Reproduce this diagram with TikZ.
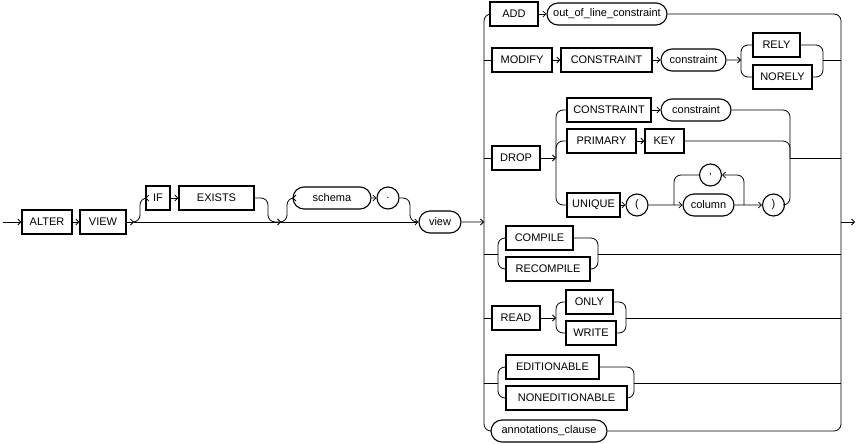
\documentclass[tikz,border=0pt]{standalone}
\usepackage{fontspec}
\setmainfont{Liberation Sans}
\usetikzlibrary{arrows.meta,shapes.misc}
\begin{document}
\begin{tikzpicture}[x=1pt,y=-1pt,
  every node/.style={font=\fontsize{11}{12}\selectfont, inner sep=1pt},
  kw/.style={draw,line width=1.3pt,minimum height=24pt},
  nt/.style={draw,line width=1.1pt,rounded rectangle,minimum height=22pt},
  ln/.style={line width=0.8pt},
  rc/.style={ln,rounded corners=7pt},
  arr/.style={ln,-{Straight Barb[length=3pt,width=6pt]}}]
\useasboundingbox (0,0) rectangle (859,444);
% left part
\node[kw,minimum width=50pt] (alter) at (47,222) {ALTER};
\node[kw,minimum width=46pt] (view) at (103,222) {VIEW};
\node[kw,minimum width=24pt] (if) at (158,198) {IF};
\node[kw,minimum width=75pt] (exists) at (216.5,198) {EXISTS};
\node[nt,minimum width=80pt] (schema) at (332,198) {schema};
\node[nt,minimum width=20pt] (dot) at (388,198) {.};
\node[nt,minimum width=44pt] (vw) at (440,222) {view};
\coordinate (s) at (3,222);
\coordinate (j1) at (134,222);
\coordinate (j2) at (281,222);
\coordinate (lb) at (484,222);
\coordinate (rb) at (841,222);
\coordinate (e) at (855,222);
\draw[arr] (s) -- (alter);
\draw[arr] (alter) -- (view);
\draw[arr] (view) -- (j1);
\draw[arr] (j1) -- (j2);
\draw[arr] (j2) -- (vw);
\draw[rc,-{Straight Barb[length=3pt,width=6pt]}] (j1) -| (140,198) -- (if);
\draw[arr] (if) -- (exists);
\draw[rc] (exists) -| (268,222) -- (j2);
\draw[rc,-{Straight Barb[length=3pt,width=6pt]}] (j2) -| (287,198) -- (schema);
\draw[arr] (schema) -- (dot);
\draw[rc] (dot) -| (410,222) -- (414,222);
\draw[arr] (vw) -- (lb);
\draw[arr] (rb) -- (e);
% right part rows
\node[kw,minimum width=48pt] (add) at (514,14) {ADD};
\node[nt,minimum width=122pt] (ool) at (607,14) {out\_of\_line\_constraint};
\node[kw,minimum width=60pt] (modify) at (522,60) {MODIFY};
\node[kw,minimum width=91pt] (cons1) at (606.5,60) {CONSTRAINT};
\node[nt,minimum width=67pt] (c1) at (693.5,60) {constraint};
\node[kw,minimum width=47pt] (rely) at (776.5,45) {RELY};
\node[kw,minimum width=59pt] (norely) at (782.5,77) {NORELY};
\node[kw,minimum width=48pt] (drop) at (516,158) {DROP};
\node[kw,minimum width=84pt] (cons2) at (609,110) {CONSTRAINT};
\node[nt,minimum width=72pt] (c2) at (696,110) {constraint};
\node[kw,minimum width=69pt] (primary) at (601.5,141) {PRIMARY};
\node[kw,minimum width=39pt] (key) at (664.5,141) {KEY};
\node[kw,minimum width=53pt] (unique) at (593.5,205) {UNIQUE};
\node[nt,minimum width=18pt] (lp) at (637,205) {(};
\node[nt,minimum width=21pt] (comma) at (710.5,175) {,};
\node[nt,minimum width=53pt] (column) at (708.5,205) {column};
\node[nt,minimum width=17pt] (rp) at (773.5,205) {)};
\node[kw,minimum width=67pt] (compile) at (539.5,238) {COMPILE};
\node[kw,minimum width=84pt] (recompile) at (548,269) {RECOMPILE};
\node[kw,minimum width=48pt] (read) at (516,318) {READ};
\node[kw,minimum width=47pt] (only) at (589.5,302) {ONLY};
\node[kw,minimum width=50pt] (write) at (591,333) {WRITE};
\node[kw,minimum width=93pt] (edit) at (552.5,367) {EDITIONABLE};
\node[kw,minimum width=121pt] (nedit) at (566.5,398) {NONEDITIONABLE};
\node[nt,minimum width=118pt] (ann) at (549,431) {annotations\_clause};
% left bar and right bar
\draw[rc] (lb) |- (add);
\draw[rc] (lb) |- (ann);
\draw[rc] (ool) -| (rb);
\draw[rc] (ann) -| (rb);
% ADD
\draw[arr] (add) -- (ool);
% MODIFY
\draw[ln] (484,60) -- (modify);
\draw[arr] (modify) -- (cons1);
\draw[arr] (cons1) -- (c1);
\coordinate (m1) at (741,60);
\coordinate (m2) at (823,60);
\draw[arr] (c1) -- (m1);
\draw[rc] (m1) |- (rely);
\draw[rc] (m1) |- (norely);
\draw[rc] (rely) -| (m2);
\draw[rc] (norely) -| (m2);
\draw[ln] (m2) -- (841,60);
% DROP
\coordinate (d1) at (556,158);
\coordinate (d2) at (790,158);
\draw[ln] (484,158) -- (drop);
\draw[arr] (drop) -- (d1);
\draw[rc] (d1) |- (cons2);
\draw[rc] (d1) |- (primary);
\draw[rc] (d1) |- (unique);
\draw[arr] (cons2) -- (c2);
\draw[arr] (primary) -- (key);
\draw[arr] (unique) -- (lp);
\coordinate (l1) at (674,205);
\coordinate (l2) at (744,205);
\draw[arr] (lp) -- (column);
\draw[arr] (column) -- (rp);
\draw[rc,-{Straight Barb[length=3pt,width=6pt]}] (l2) |- (comma);
\draw[rc] (comma) -| (l1);
\draw[rc] (c2) -| (d2);
\draw[rc] (key) -| (d2);
\draw[rc] (rp) -| (d2);
\draw[ln] (d2) -- (841,158);
% COMPILE
\coordinate (p1) at (498,254);
\coordinate (p2) at (598,254);
\draw[ln] (484,254) -- (p1);
\draw[rc] (p1) |- (compile);
\draw[rc] (p1) |- (recompile);
\draw[rc] (compile) -| (p2);
\draw[rc] (recompile) -| (p2);
\draw[ln] (p2) -- (841,254);
% READ
\coordinate (r1) at (556,318);
\coordinate (r2) at (626,318);
\draw[ln] (484,318) -- (read);
\draw[arr] (read) -- (r1);
\draw[rc] (r1) |- (only);
\draw[rc] (r1) |- (write);
\draw[rc] (only) -| (r2);
\draw[rc] (write) -| (r2);
\draw[ln] (r2) -- (841,318);
% EDITIONABLE
\coordinate (q1) at (498,383);
\coordinate (q2) at (634,383);
\draw[ln] (484,383) -- (q1);
\draw[rc] (q1) |- (edit);
\draw[rc] (q1) |- (nedit);
\draw[rc] (edit) -| (q2);
\draw[rc] (nedit) -| (q2);
\draw[ln] (q2) -- (841,383);
\end{tikzpicture}
\end{document}
